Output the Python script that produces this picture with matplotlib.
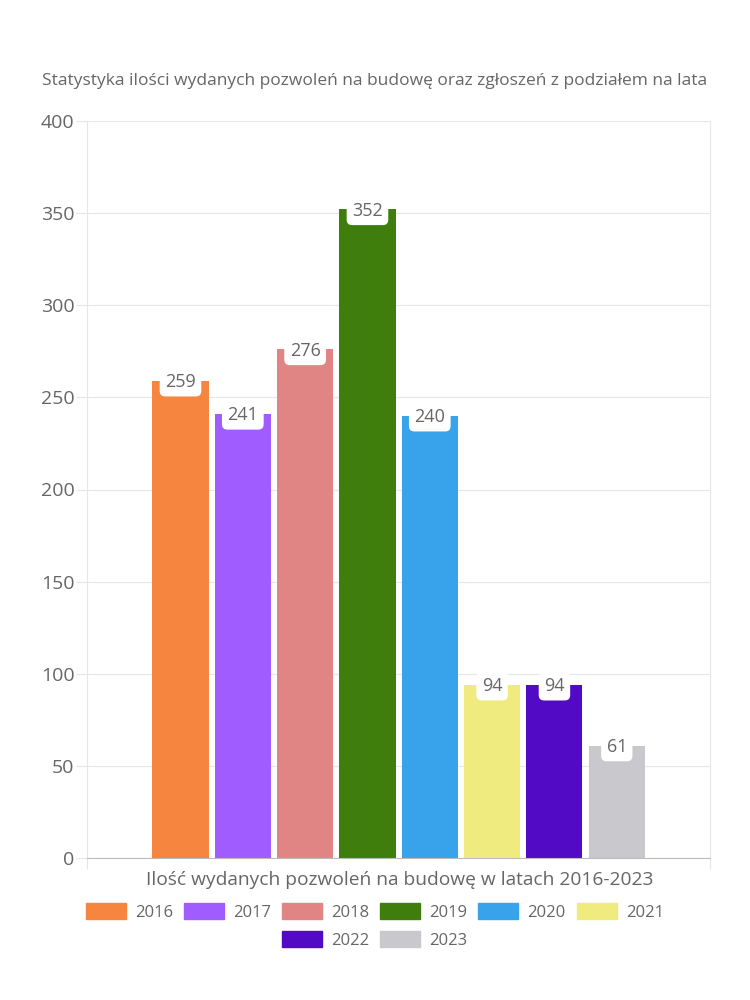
import matplotlib.pyplot as plt
import matplotlib.patches as mpatches
import numpy as np

plt.rcParams['font.family'] = ['Open Sans', 'DejaVu Sans']

# data
years = ['2016', '2017', '2018', '2019', '2020', '2021', '2022', '2023']
permits = [259, 241, 276, 352, 240, 94, 94, 61]
colors = ['#F5853F', '#A15CFF', '#E18484', '#3F7D0C',
          '#38A3EB', '#F0EB7E', '#520AC4', '#C9C9CD']

title = 'Statystyka ilości wydanych pozwoleń na budowę oraz zgłoszeń z podziałem na lata'
xlabel = 'Ilość wydanych pozwoleń na budowę w latach 2016-2023'

txt = '#666666'
grid = '#E6E6E6'

fig = plt.figure(figsize=(7.5, 10), dpi=100)
ax = fig.add_axes([0.116, 0.142, 0.831, 0.737])

x = np.arange(len(years))
bars = ax.bar(x, permits, width=0.9, color=colors, edgecolor='none', zorder=2)

# value labels: white rounded box hanging from the top of each bar
for xi, v in zip(x, permits):
    ax.annotate(str(v), (xi, v), xytext=(0, -4.5), textcoords='offset points',
                ha='center', va='baseline', fontsize=13, color=txt, zorder=3,
                bbox=dict(boxstyle='round,pad=0.3,rounding_size=0.3',
                          fc='white', ec='none'))

ax.set_xlim(-1.5, 8.5)
ax.set_ylim(0, 400)
ax.set_yticks(np.arange(0, 401, 50))
ax.set_xticks([-1.5, 8.5])
ax.set_xticklabels(['', ''])
ax.yaxis.grid(True, color=grid, linewidth=0.8, zorder=0)
ax.set_axisbelow(True)

ax.tick_params(axis='y', length=8, width=0.8, color=grid, labelsize=14,
               labelcolor=txt, pad=1)
ax.tick_params(axis='x', length=8, width=0.8, color=grid)
for side in ['left', 'right', 'top']:
    ax.spines[side].set_color(grid)
    ax.spines[side].set_linewidth(0.8)
ax.spines['top'].set_visible(False)
ax.spines['bottom'].set_color('#BBBBBB')
ax.spines['bottom'].set_linewidth(0.8)

fig.text(0.5, 0.919, title, ha='center', va='center', fontsize=12.5, color=txt)
fig.text(0.533, 0.12, xlabel, ha='center', va='center', fontsize=13.8, color=txt)

handles = [mpatches.Patch(color=c, label=y) for c, y in zip(colors, years)]
leg_kw = dict(frameon=False, fontsize=12, labelcolor=txt, handlelength=2.4,
              handleheight=1.1, handletextpad=0.55, columnspacing=0.65,
              borderaxespad=0, borderpad=0)
leg1 = fig.legend(handles=handles[:6], ncol=6, loc='center',
                  bbox_to_anchor=(0.5, 0.088), **leg_kw)
leg2 = fig.legend(handles=handles[6:], ncol=2, loc='center',
                  bbox_to_anchor=(0.5, 0.060), **leg_kw)

fig.savefig('out.png', dpi=100, facecolor='white')
